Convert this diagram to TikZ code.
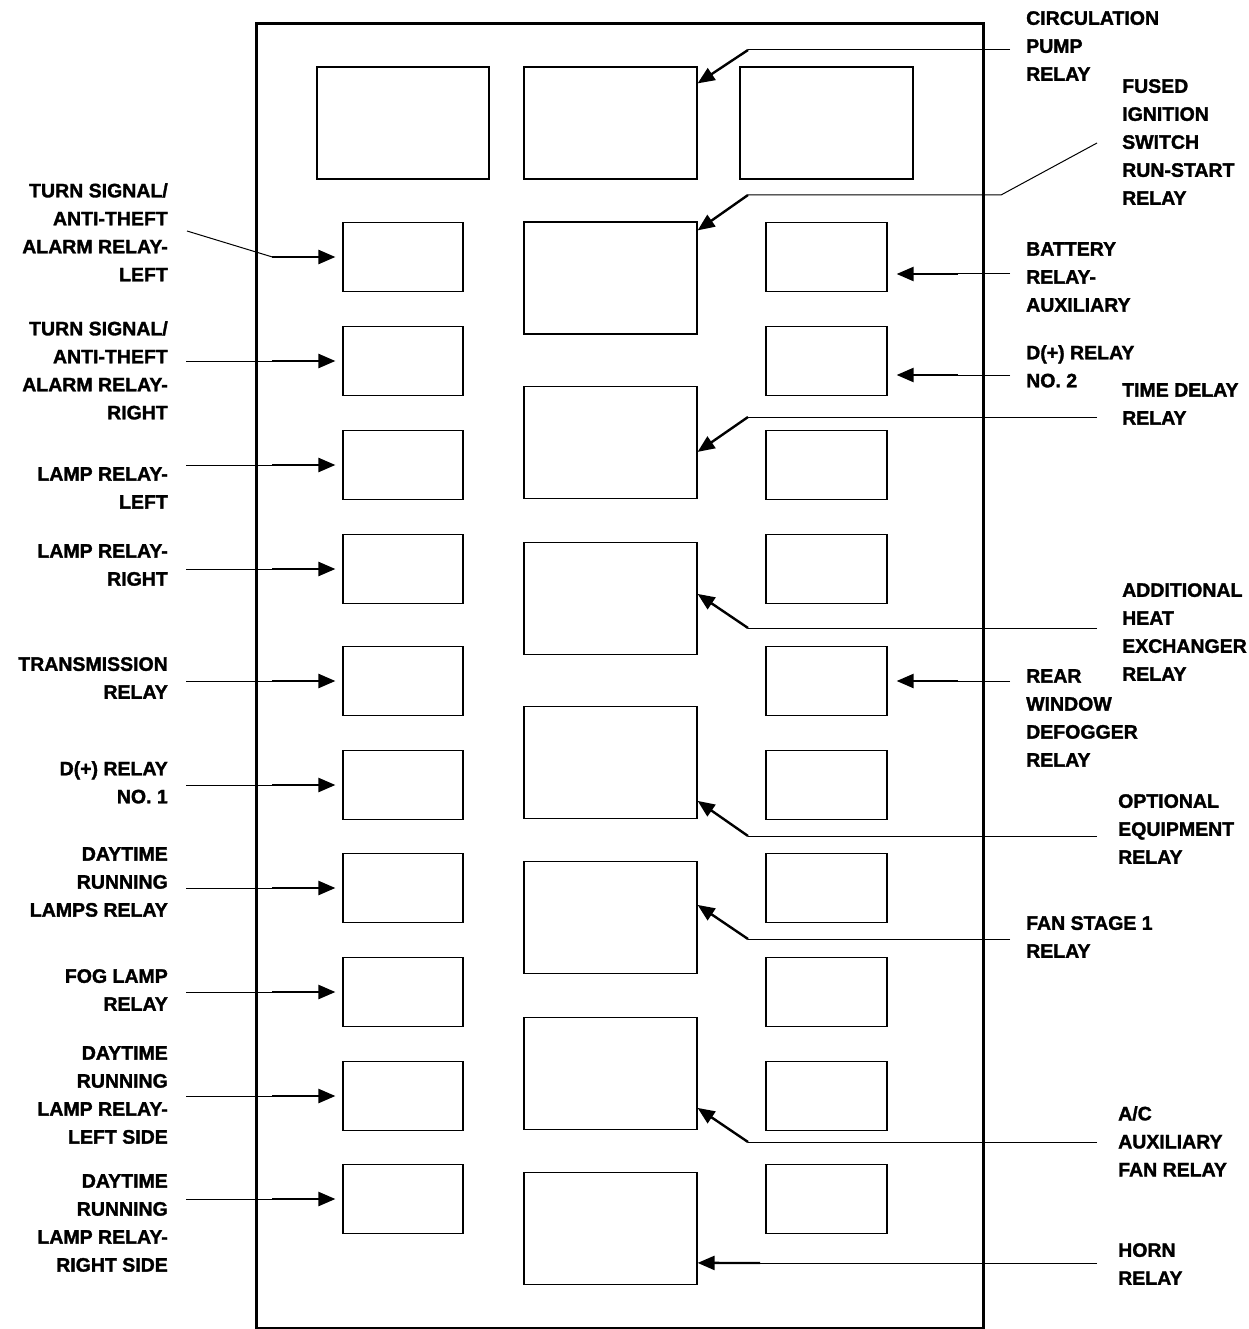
\documentclass[tikz,border=0pt]{standalone}
\usepackage{fontspec}
\setmainfont{Liberation Sans}[BoldFeatures={FakeBold=1.6}]
\usetikzlibrary{arrows.meta}

\tikzset{
  frame/.style={line width=3pt},
  relay/.style={draw,line width=1.2pt,inner sep=0pt,minimum width=120,minimum height=69},
  bigrelay/.style={relay,minimum width=173,minimum height=112},
  lbl/.style={font=\fontsize{19.5}{28}\selectfont\bfseries,inner sep=0pt},
  leader/.style={line width=1pt},
  pointer/.style={line width=2.4pt,-{Triangle[length=17pt,width=14pt]}},
}

\begin{document}
\begin{tikzpicture}[x=1pt,y=-1pt]
    \useasboundingbox (0,0) rectangle (1248,1329);
    % housing
    \draw[frame] (256,24) rectangle (983,1328);
    % top row
    \node[bigrelay,minimum width=172] (tl) at (403,123) {};
    \node[bigrelay] (m0) at (610.5,123) {};
    \node[bigrelay] (tr) at (826.5,123) {};
    % middle column
    \node[bigrelay] (m1) at (610.5,278) {};
    \node[bigrelay] (m2) at (610.5,442.5) {};
    \node[bigrelay] (m3) at (610.5,598.5) {};
    \node[bigrelay] (m4) at (610.5,762.5) {};
    \node[bigrelay] (m5) at (610.5,917.5) {};
    \node[bigrelay] (m6) at (610.5,1073.5) {};
    \node[bigrelay] (m7) at (610.5,1228.5) {};
    % left column
    \node[relay] (l1) at (403,257) {};
    \node[relay] (l2) at (403,361) {};
    \node[relay] (l3) at (403,465) {};
    \node[relay] (l4) at (403,569) {};
    \node[relay] (l5) at (403,681) {};
    \node[relay] (l6) at (403,785) {};
    \node[relay] (l7) at (403,888) {};
    \node[relay] (l8) at (403,992) {};
    \node[relay] (l9) at (403,1096) {};
    \node[relay] (l10) at (403,1199) {};
    % right column
    \node[relay,minimum width=121] (r1) at (826.5,257) {};
    \node[relay,minimum width=121] (r2) at (826.5,361) {};
    \node[relay,minimum width=121] (r3) at (826.5,465) {};
    \node[relay,minimum width=121] (r4) at (826.5,569) {};
    \node[relay,minimum width=121] (r5) at (826.5,681) {};
    \node[relay,minimum width=121] (r6) at (826.5,785) {};
    \node[relay,minimum width=121] (r7) at (826.5,888) {};
    \node[relay,minimum width=121] (r8) at (826.5,992) {};
    \node[relay,minimum width=121] (r9) at (826.5,1096) {};
    \node[relay,minimum width=121] (r10) at (826.5,1199) {};

    % left labels
    \node[lbl,anchor=north east,align=right] (tsl) at (168,183) {TURN SIGNAL/\\ANTI-THEFT\\ALARM RELAY-\\LEFT};
    \node[lbl,anchor=north east,align=right] (tsr) at (168,321) {TURN SIGNAL/\\ANTI-THEFT\\ALARM RELAY-\\RIGHT};
    \node[lbl,anchor=north east,align=right] (lampl) at (168,467) {LAMP RELAY-\\LEFT};
    \node[lbl,anchor=north east,align=right] (lampr) at (168,544) {LAMP RELAY-\\RIGHT};
    \node[lbl,anchor=north east,align=right] (trans) at (168,657) {TRANSMISSION\\RELAY};
    \node[lbl,anchor=north east,align=right] (dp1) at (168,761) {D(+) RELAY\\NO. 1};
    \node[lbl,anchor=north east,align=right] (drl) at (168,847) {DAYTIME\\RUNNING\\LAMPS RELAY};
    \node[lbl,anchor=north east,align=right] (fog) at (168,969) {FOG LAMP\\RELAY};
    \node[lbl,anchor=north east,align=right] (drll) at (168,1046) {DAYTIME\\RUNNING\\LAMP RELAY-\\LEFT SIDE};
    \node[lbl,anchor=north east,align=right] (drlr) at (168,1174) {DAYTIME\\RUNNING\\LAMP RELAY-\\RIGHT SIDE};

    % right labels
    \node[lbl,anchor=north west,align=left] (circ) at (1026,11) {CIRCULATION\\PUMP\\RELAY};
    \node[lbl,anchor=north west,align=left] (fused) at (1122,79) {FUSED\\IGNITION\\SWITCH\\RUN-START\\RELAY};
    \node[lbl,anchor=north west,align=left] (batt) at (1026,242) {BATTERY\\RELAY-\\AUXILIARY};
    \node[lbl,anchor=north west,align=left] (dp2) at (1026,345) {D(+) RELAY\\NO. 2};
    \node[lbl,anchor=north west,align=left] (tdel) at (1122,383) {TIME DELAY\\RELAY};
    \node[lbl,anchor=north west,align=left] (heat) at (1122,583) {ADDITIONAL\\HEAT\\EXCHANGER\\RELAY};
    \node[lbl,anchor=north west,align=left] (rear) at (1026,669) {REAR\\WINDOW\\DEFOGGER\\RELAY};
    \node[lbl,anchor=north west,align=left] (opt) at (1118,794) {OPTIONAL\\EQUIPMENT\\RELAY};
    \node[lbl,anchor=north west,align=left] (fan) at (1026,916) {FAN STAGE 1\\RELAY};
    \node[lbl,anchor=north west,align=left] (ac) at (1118,1106) {A/C\\AUXILIARY\\FAN RELAY};
    \node[lbl,anchor=north west,align=left] (horn) at (1118,1243) {HORN\\RELAY};

    % left pointers
    \coordinate (tsl-a) at (187,231);
    \coordinate (tsl-b) at ([xshift=-70]l1.west);
    \draw[leader] (tsl-a) -- (tsl-b);
    \draw[pointer] (tsl-b) -- ([xshift=-7]l1.west);
    \coordinate (tsr-a) at ([xshift=-156]l2.west);
    \coordinate (tsr-b) at ([xshift=-70]l2.west);
    \draw[leader] (tsr-a) -- (tsr-b);
    \draw[pointer] (tsr-b) -- ([xshift=-7]l2.west);
    \coordinate (lampl-a) at ([xshift=-156]l3.west);
    \coordinate (lampl-b) at ([xshift=-70]l3.west);
    \draw[leader] (lampl-a) -- (lampl-b);
    \draw[pointer] (lampl-b) -- ([xshift=-7]l3.west);
    \coordinate (lampr-a) at ([xshift=-156]l4.west);
    \coordinate (lampr-b) at ([xshift=-70]l4.west);
    \draw[leader] (lampr-a) -- (lampr-b);
    \draw[pointer] (lampr-b) -- ([xshift=-7]l4.west);
    \coordinate (trans-a) at ([xshift=-156]l5.west);
    \coordinate (trans-b) at ([xshift=-70]l5.west);
    \draw[leader] (trans-a) -- (trans-b);
    \draw[pointer] (trans-b) -- ([xshift=-7]l5.west);
    \coordinate (dp1-a) at ([xshift=-156]l6.west);
    \coordinate (dp1-b) at ([xshift=-70]l6.west);
    \draw[leader] (dp1-a) -- (dp1-b);
    \draw[pointer] (dp1-b) -- ([xshift=-7]l6.west);
    \coordinate (drl-a) at ([xshift=-156]l7.west);
    \coordinate (drl-b) at ([xshift=-70]l7.west);
    \draw[leader] (drl-a) -- (drl-b);
    \draw[pointer] (drl-b) -- ([xshift=-7]l7.west);
    \coordinate (fog-a) at ([xshift=-156]l8.west);
    \coordinate (fog-b) at ([xshift=-70]l8.west);
    \draw[leader] (fog-a) -- (fog-b);
    \draw[pointer] (fog-b) -- ([xshift=-7]l8.west);
    \coordinate (drll-a) at ([xshift=-156]l9.west);
    \coordinate (drll-b) at ([xshift=-70]l9.west);
    \draw[leader] (drll-a) -- (drll-b);
    \draw[pointer] (drll-b) -- ([xshift=-7]l9.west);
    \coordinate (drlr-a) at ([xshift=-156]l10.west);
    \coordinate (drlr-b) at ([xshift=-70]l10.west);
    \draw[leader] (drlr-a) -- (drlr-b);
    \draw[pointer] (drlr-b) -- ([xshift=-7]l10.west);

    % right pointers, short ones
    \coordinate (batt-a) at (1010,274);
    \coordinate (batt-b) at (958,274);
    \draw[leader] (batt-a) -- (batt-b);
    \draw[pointer] (batt-b) -- ([xshift=9,yshift=-17]r1.east);
    \coordinate (dp2-a) at (1010,375);
    \coordinate (dp2-b) at (958,375);
    \draw[leader] (dp2-a) -- (dp2-b);
    \draw[pointer] (dp2-b) -- ([xshift=9,yshift=-14]r2.east);
    \coordinate (rear-a) at (1010,681);
    \coordinate (rear-b) at (958,681);
    \draw[leader] (rear-a) -- (rear-b);
    \draw[pointer] (rear-b) -- ([xshift=9]r5.east);

    % right pointers into the middle column
    \coordinate (circ-a) at (1010,50);
    \coordinate (circ-b) at (748,50);
    \draw[leader] (circ-a) -- (circ-b);
    \draw[pointer] (circ-b) -- ([yshift=-17]m0.north east);
    \coordinate (fused-a) at (1097,143);
    \coordinate (fused-c) at (1001,195);
    \coordinate (fused-b) at (748,195);
    \draw[leader] (fused-a) -- (fused-c) -- (fused-b);
    \draw[pointer] (fused-b) -- ([yshift=-9]m1.north east);
    \coordinate (tdel-a) at (1097,417);
    \coordinate (tdel-b) at (748,417);
    \draw[leader] (tdel-a) -- (tdel-b);
    \draw[pointer] (tdel-b) -- ([yshift=-66]m2.north east);
    \coordinate (heat-a) at (1097,628);
    \coordinate (heat-b) at (748,628);
    \draw[leader] (heat-a) -- (heat-b);
    \draw[pointer] (heat-b) -- ([yshift=-52]m3.north east);
    \coordinate (opt-a) at (1097,836);
    \coordinate (opt-b) at (748,836);
    \draw[leader] (opt-a) -- (opt-b);
    \draw[pointer] (opt-b) -- ([yshift=-95]m4.north east);
    \coordinate (fan-a) at (1010,939);
    \coordinate (fan-b) at (748,939);
    \draw[leader] (fan-a) -- (fan-b);
    \draw[pointer] (fan-b) -- ([yshift=-44]m5.north east);
    \coordinate (ac-a) at (1097,1142);
    \coordinate (ac-b) at (748,1142);
    \draw[leader] (ac-a) -- (ac-b);
    \draw[pointer] (ac-b) -- ([yshift=-91]m6.north east);
    \coordinate (horn-a) at (1097,1263);
    \coordinate (horn-b) at (760,1263);
    \draw[leader] (horn-a) -- (horn-b);
    \draw[pointer] (horn-b) -- ([yshift=-91]m7.north east);
\end{tikzpicture}
\end{document}
